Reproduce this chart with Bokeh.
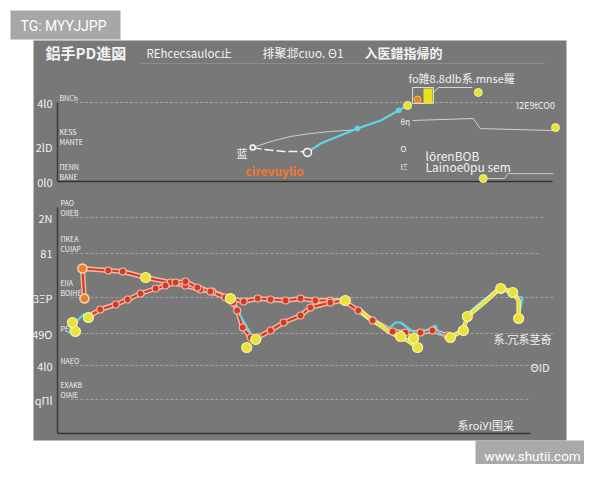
from bokeh.plotting import figure
from bokeh.models import Range1d
from bokeh.core.properties import value
from bokeh.embed import file_html
from bokeh.resources import INLINE

# ---------------- data ----------------
top_tick_values = [400, 175, 0]
top_tick_labels = ["4l0", "2lD", "0l0"]
top_side_labels = ["BNCh", "KESS\nMANTE", "ΠENN\nBANE"]

bottom_tick_values = [108, 90, 68, 50, 34, 17]
bottom_tick_labels = ["2N", "81", "3ΞΡ", "49O", "4l0", "qΠl"]
bottom_side_labels = ["PAO\nOIIEB", "ΠKEA\nCUIAP", "EIIA\nBOIHE", "PEl", "NAEO", "EXAKB\nOIAIE"]
bottom_grid_end = [98, 97, 100, 100, 97, 95]

# top chart series
top_gray_x = [39.2, 42.8, 46.8, 50.8, 54.8, 60.2]
top_gray_y = [172, 202, 228, 243, 253, 263]
top_white_x = [39.2, 41.4, 45.4, 48.8, 50.2]
top_white_y = [172, 162, 152, 152, 147]
top_cyan_x = [50.2, 52.8, 56.8, 60.2, 64.9, 68.5, 70.3]
top_cyan_y = [147, 192, 233, 268, 309, 360, 385]
top_gray2_x = [71.3, 83.5, 84.9, 99.6]
top_gray2_y = [309, 319, 268, 258]
top_box_line_x = [75.5, 76.5, 83.3]
top_box_line_y = [451, 476, 476]
top_low_x = [85.5, 89.8, 90.4, 99.6]
top_low_y = [15, 15, 40, 40]
top_yellow_x = [70.3, 84.5, 100.0, 85.5]
top_yellow_y = [385, 451, 273, 15]
top_box = dict(left=71.3, right=75.5, bottom=395, top=476)
top_bar = dict(left=73.5, right=75.3, bottom=395, top=471)
top_orange_x = [72.3]
top_orange_y = [415]

# bottom chart series
red_a_x = [5.4, 5.0, 10.2, 13.1, 17.7, 22.7, 25.7, 28.7, 31.1, 34.7, 37.4, 40.2, 42.8, 45.8, 48.8, 51.8, 54.8, 57.4]
red_a_y = [67.5, 82.5, 81.5, 81, 78, 75.5, 74, 72, 71, 67.5, 66, 67.5, 67, 66.5, 67.5, 66.5, 66.5, 66.5]
red_b_x = [6.2, 8.6, 11.7, 14.1, 16.7, 19.7, 21.7, 23.7, 25.7, 28.1, 30.7, 33.7, 35.3, 36.1, 37.2, 38.8,
           40.2, 42.8, 45.4, 48.8, 50.8, 54.8, 57.4, 60.4, 63.3, 67.3, 69.9, 72.9, 75.3, 78.3]
red_b_y = [58.5, 62, 64.5, 67, 70, 72.5, 74, 75.5, 76, 73, 71, 68, 65.5, 61.5, 53, 48,
           48, 51.5, 55.5, 59, 63, 65.5, 66.5, 61.5, 56.5, 51, 50.5, 50.5, 51.5, 49]
yellow1_x = [60.6, 62.4, 64.3, 66.5, 68.9, 70.3, 72.3]
yellow1_y = [62, 58, 55, 51, 48, 46.5, 43]
yellow2_x = [77.9, 78.9, 81.3, 82.5, 85.9, 89.0, 91.6, 92.6, 92.6]
yellow2_y = [48.5, 48, 51.5, 59, 66, 73, 70, 66.5, 59]
cyan1_x = [2.2, 3.6, 4.6, 5.4]
cyan1_y = [50, 55.5, 58, 60]
cyan2_x = [35.3, 36.7, 38.8]
cyan2_y = [65.5, 59, 50]
cyan3_x = [66.5, 67.9, 68.9, 70.5, 71.9, 73.5, 74.9, 75.9, 76.5, 77.9]
cyan3_y = [52.5, 55.5, 55.5, 52.5, 50, 51, 52.5, 54, 50.5, 48.5]
cyan4_x = [81.9, 84.9, 89.0, 91.6, 93.4, 93.0, 92.4]
cyan4_y = [59, 65.5, 73.5, 69, 68, 63, 59]
ymark_x = [3.0, 3.6, 6.2, 17.7, 34.7, 38.0, 39.8, 57.8, 68.9, 71.5, 72.3, 78.9, 81.5, 82.3, 89.0, 91.4, 92.6]
ymark_y = [55.5, 51, 58, 78, 67.5, 43, 47, 66.5, 48.5, 47.5, 43, 48, 51.5, 58.5, 72.5, 70.5, 57.5]
omark_x = [5.0, 5.4]
omark_y = [82.5, 67.5]

title_texts = ["鋁手PD進図", "REhcecsauloc止", "排聚邶cιυο. Θ1", "入医錯指帰的"]

# ---------------- layout ----------------
W, H, OFF = 584, 464, 0
FONT = "Noto Sans CJK SC"
WHITE = "#f2f2f2"


def xr(v0, s0, v1, s1):
    k = (v1 - v0) / (s1 - s0)
    return Range1d(v0 + (OFF - s0) * k, v0 + (OFF + W - s0) * k)


def yr(v0, s0, v1, s1):
    k = (v1 - v0) / (s1 - s0)
    return Range1d(v0 + (OFF + H - s0) * k, v0 + (OFF - s0) * k)


p = figure(width=W, height=H, output_backend="svg", toolbar_location=None,
           x_range=Range1d(OFF, OFF + W), y_range=Range1d(OFF + H, OFF),
           x_axis_location=None, y_axis_location=None, title=None, min_border=0)
p.grid.visible = False
p.outline_line_color = None
p.background_fill_color = "white"
p.border_fill_color = "white"
p.extra_x_ranges = {"cx": xr(0, 57, 100, 555)}
p.extra_y_ranges = {"ty": yr(0, 181, 400, 102), "by": yr(0, 433, 108, 217)}

T = dict(x_range_name="cx", y_range_name="ty")
B = dict(x_range_name="cx", y_range_name="by")

# panel + watermarks (page coords)
p.quad(left=[33], right=[566], top=[40], bottom=[440], fill_color="#787878", line_color=None)
p.quad(left=[10], right=[120], top=[10], bottom=[39], fill_color="#a7a7a7", line_color=None)
p.quad(left=[475], right=[590], top=[440], bottom=[470], fill_color="#a9a9a9", line_color=None)
p.text(x=[20], y=[25], text=["TG: MYYJJPP"], text_color="white", text_font_size="14px",
       text_font=value("Roboto"), text_baseline="middle")
p.text(x=[484], y=[455], text=["www.shutii.com"], text_color="white", text_font_size="13.5px",
       text_font=value("Roboto"), text_baseline="middle")

# title row
p.text(x=[45], y=[52], text=[title_texts[0]], text_color=WHITE, text_font_size="15px",
       text_font_style="bold", text_font=value(FONT), text_baseline="middle")
p.text(x=[146], y=[52], text=[title_texts[1]], text_color=WHITE, text_font_size="11.5px",
       text_font=value(FONT), text_baseline="middle")
p.text(x=[262], y=[52], text=[title_texts[2]], text_color=WHITE, text_font_size="12px",
       text_font=value(FONT), text_baseline="middle")
p.text(x=[364], y=[52], text=[title_texts[3]], text_color=WHITE, text_font_size="13px",
       text_font_style="bold", text_font=value(FONT), text_baseline="middle")
p.segment(x0=[140], x1=[545], y0=[63], y1=[63], line_color="#8c8c8c", line_width=1)

# ---------- top chart ----------
p.segment(x0=[3.5], x1=[98], y0=[400], y1=[400], line_color="#a4a4a4", line_dash="3 2", line_width=1, **T)
p.segment(x0=[0], x1=[0], y0=[400], y1=[0], line_color="#3c3c3c", line_width=1.5, **T)
p.segment(x0=[0], x1=[99.4], y0=[0], y1=[0], line_color="#333333", line_width=1.5, **T)
p.text(x=[0] * 3, y=top_tick_values, text=top_tick_labels, x_offset=-5, text_align="right",
       text_baseline="middle", text_color=WHITE, text_font_size="11px", text_font=value(FONT), **T)
p.text(x=[0] * 3, y=top_tick_values, text=top_side_labels, x_offset=2, text_align="left",
       text_baseline="bottom", text_color=WHITE, text_font_size="7px", text_line_height=1.0,
       text_font=value(FONT), **T)

p.line(top_gray_x, top_gray_y, line_color="#cfcfcf", line_width=1, **T)
p.line(top_white_x, top_white_y, line_color="#f5f5f5", line_width=1.5, line_dash="9 3", **T)
p.line(top_cyan_x, top_cyan_y, line_color="#62d6e4", line_width=2.2, **T)
p.line(top_gray2_x, top_gray2_y, line_color="#d0d0d0", line_width=1, **T)
p.line(top_box_line_x, top_box_line_y, line_color="#d8d8d8", line_width=1, **T)
p.line(top_low_x, top_low_y, line_color="#c8c8c8", line_width=1, **T)
p.quad(line_color="#dddddd", fill_color=None, line_width=1, **top_box, **T)
p.quad(fill_color="#e9e21c", line_color=None, **top_bar, **T)
p.scatter(top_orange_x, top_orange_y, size=7, fill_color="#e7812e", line_color="#f3c34a", **T)
p.scatter([top_white_x[0], top_white_x[-1]], [top_white_y[0], top_white_y[-1]], size=[5, 8],
          fill_color="#7a7a7a", line_color="white", line_width=1.5, **T)
p.scatter([top_cyan_x[3], top_cyan_x[5]], [top_cyan_y[3], top_cyan_y[5]], size=5,
          fill_color="#62d6e4", line_color="#62d6e4", **T)
p.scatter(top_yellow_x, top_yellow_y, size=8, fill_color="#e6e23a", line_color="#f4f09a", **T)

# top chart texts (page coords)
p.text(x=[236], y=[152], text=["蓝"], text_color=WHITE, text_font_size="11px",
       text_font=value(FONT), text_baseline="middle")
p.text(x=[245], y=[170], text=["cirevuylio"], text_color="#f2792a", text_font_size="12px",
       text_font=value(FONT), text_baseline="middle", text_font_style="bold")
p.text(x=[408], y=[77], text=["fo雑8.8dlb系.mnse羅"], text_color=WHITE, text_font_size="11px",
       text_font=value(FONT), text_baseline="middle")
p.text(x=[516], y=[105], text=["I2E9tCO0"], text_color=WHITE, text_font_size="9px",
       text_font=value(FONT), text_baseline="middle")
p.text(x=[400, 400, 400], y=[121, 148, 166], text=["θη", "Ο", "ΙΞ"], text_color=WHITE,
       text_font_size="8px", text_font=value(FONT), text_baseline="middle")
p.text(x=[425, 425], y=[155, 166], text=["lōrenBOB", "Lainoe0pu sem"], text_color=WHITE,
       text_font_size="12px", text_font=value(FONT), text_baseline="middle")

# ---------- bottom chart ----------
p.segment(x0=[2.6] * 6, x1=bottom_grid_end, y0=bottom_tick_values, y1=bottom_tick_values,
          line_color="#a2a2a2", line_dash="3 2", line_width=1, **B)
p.segment(x0=[0], x1=[0], y0=[113], y1=[0], line_color="#3c3c3c", line_width=1.5, **B)
p.segment(x0=[0], x1=[95], y0=[0], y1=[0], line_color="#333333", line_width=1.5, **B)
p.text(x=[0] * 6, y=bottom_tick_values, text=bottom_tick_labels, x_offset=-5, text_align="right",
       text_baseline="middle", text_color=WHITE, text_font_size="11px", text_font=value(FONT), **B)
p.text(x=[0] * 6, y=bottom_tick_values, text=bottom_side_labels, x_offset=3, text_align="left",
       text_baseline="bottom", text_color=WHITE, text_font_size="7px", text_line_height=1.0,
       text_font=value(FONT), **B)

RED, GLOW = "#d33a26", "#f1b9a4"
for xs, ys in [(red_a_x, red_a_y), (red_b_x, red_b_y)]:
    p.line(xs, ys, line_color=GLOW, line_width=5, **B)
    p.line(xs, ys, line_color=RED, line_width=2.2, **B)
for xs, ys in [(cyan1_x, cyan1_y), (cyan2_x, cyan2_y), (cyan3_x, cyan3_y), (cyan4_x, cyan4_y)]:
    p.line(xs, ys, line_color="#63d3e2", line_width=2.2, **B)
for xs, ys in [(yellow1_x, yellow1_y), (yellow2_x, yellow2_y)]:
    p.line(xs, ys, line_color="#f6f2a0", line_width=4.5, **B)
    p.line(xs, ys, line_color="#e6dd2e", line_width=2.2, **B)
for xs, ys in [(red_a_x, red_a_y), (red_b_x, red_b_y)]:
    p.scatter(xs, ys, size=7, fill_color=RED, line_color=GLOW, line_width=1.2, **B)
p.scatter(omark_x, omark_y, size=9, fill_color="#e7812e", line_color="#f8d9b0", line_width=1.5, **B)
p.scatter(ymark_x, ymark_y, size=10, fill_color="#e8e23a", line_color="#f6f3a6", line_width=1.2, **B)

p.text(x=[493, 530, 457], y=[338, 366, 424], text=["系.冗系茎奇", "ΘΙD", "系roiУI围采"],
       text_color=WHITE, text_font_size="11px", text_font=value(FONT), text_baseline="middle")

open("out.html", "w").write(file_html(p, INLINE))
